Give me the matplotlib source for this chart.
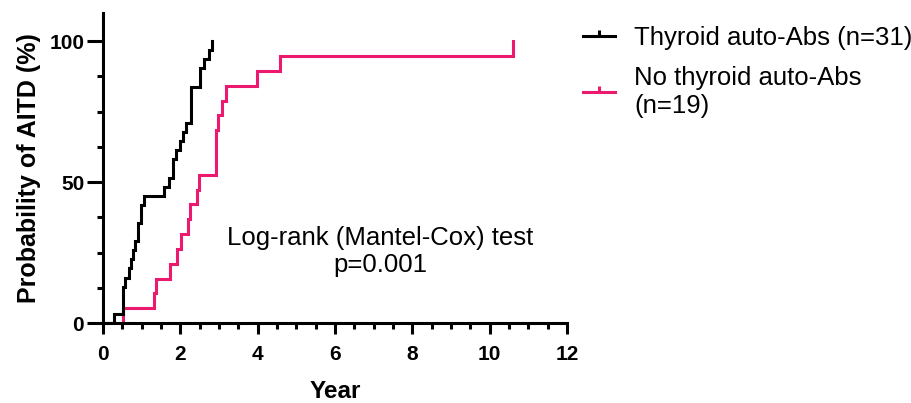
import matplotlib
matplotlib.use("Agg")
import matplotlib.pyplot as plt
from matplotlib.lines import Line2D
from matplotlib.path import Path
from matplotlib.ticker import MultipleLocator

plt.rcParams['font.family'] = ['Liberation Sans', 'DejaVu Sans']

# Kaplan-Meier style cumulative incidence (years, %)
abs_years = [0, 0.28, 0.51, 0.58, 0.67, 0.73, 0.78, 0.84, 0.90, 0.99, 1.07, 1.59, 1.70,
             1.80, 1.89, 1.98, 2.06, 2.15, 2.28, 2.52, 2.61, 2.74, 2.82]
abs_events = [0, 1, 4, 5, 6, 7, 8, 9, 11, 13, 14, 15, 16,
              18, 19, 20, 21, 22, 26, 28, 29, 30, 31]
abs_n = 31

noabs_years = [0, 0.52, 1.33, 1.38, 1.73, 1.92, 2.02, 2.19, 2.26, 2.42, 2.49, 2.92,
               2.97, 3.08, 3.17, 3.98, 4.59, 10.6]
noabs_events = [0, 1, 2, 3, 4, 5, 6, 7, 8, 9, 10, 13,
                14, 15, 16, 17, 18, 19]
noabs_n = 19

labels = ["Thyroid auto-Abs (n=31)", "No thyroid auto-Abs\n(n=19)"]
black = "#000000"
pink = "#EC1A6E"

abs_pct = [e * 100 / abs_n for e in abs_events]
noabs_pct = [e * 100 / noabs_n for e in noabs_events]

fig = plt.figure(figsize=(9.12, 4.03), dpi=100)
ax = fig.add_axes([0.1129, 0.1985, 0.5088, 0.7692])

ax.step(noabs_years, noabs_pct, where='post', color=pink, lw=2.2, solid_joinstyle='miter')
ax.step(abs_years, abs_pct, where='post', color=black, lw=2.2, solid_joinstyle='miter')

ax.set_xlim(0, 12)
ax.set_ylim(0, 110)
ax.xaxis.set_major_locator(MultipleLocator(2))
ax.xaxis.set_minor_locator(MultipleLocator(0.5))
ax.set_yticks([0, 50, 100])
ax.yaxis.set_minor_locator(MultipleLocator(12.5))

for s in ['top', 'right']:
    ax.spines[s].set_visible(False)
for s in ['left', 'bottom']:
    ax.spines[s].set_linewidth(2.2)
    ax.spines[s].set_capstyle('projecting')

ax.tick_params(axis='x', which='major', length=8, width=2.2, labelsize=15, pad=8)
ax.tick_params(axis='x', which='minor', length=4.5, width=2.2)
ax.tick_params(axis='y', which='major', length=11.5, width=2.2, labelsize=15, pad=2)
ax.tick_params(axis='y', which='minor', length=4.5, width=2.2)
for lab in ax.get_xticklabels() + ax.get_yticklabels():
    lab.set_fontweight('bold')

ax.set_xlabel("Year", fontsize=17.5, fontweight='bold', labelpad=11)
ax.set_ylabel("Probability of AITD (%)", fontsize=18, fontweight='bold', labelpad=6)

ax.text(7.16, 25.3, "Log-rank (Mantel-Cox) test\np=0.001", ha='center', va='center',
        fontsize=18.5, linespacing=1.15)

tick = Path([(0, 0), (0, 1)])
handles = [Line2D([0], [0], color=black, lw=2.2, marker=tick, markersize=8, markeredgewidth=2.2),
           Line2D([0], [0], color=pink, lw=2.2, marker=tick, markersize=8, markeredgewidth=2.2)]
fig.legend(handles, labels, loc='upper left', bbox_to_anchor=(0.628, 0.96), frameon=False,
           fontsize=18.5, handlelength=1.25, handletextpad=0.75, labelspacing=0.6,
           numpoints=1, borderaxespad=0)

fig.savefig("out.png", dpi=100)
